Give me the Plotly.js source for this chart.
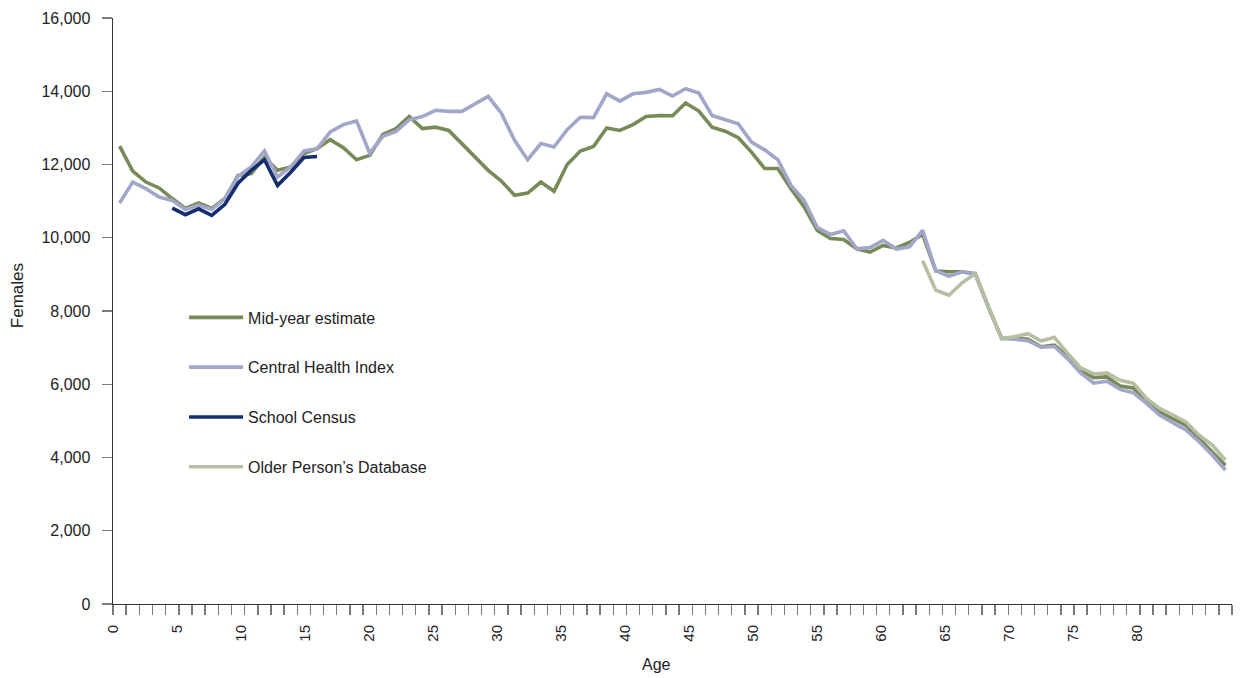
<!DOCTYPE html>
<html>
<head>
<meta charset="utf-8">
<script src="https://cdn.plot.ly/plotly-3.0.1.min.js"></script>
<style>
  html, body { margin: 0; padding: 0; background: #ffffff; }
  #chart { width: 1240px; height: 678px; }
</style>
</head>
<body>
<div id="chart"></div>
<script>
// Single-year ages plotted along the category axis
const ages = [0,1,2,3,4,5,6,7,8,9,10,11,12,13,14,15,16,17,18,19,20,21,22,23,24,25,26,27,28,29,
  30,31,32,33,34,35,36,37,38,39,40,41,42,43,44,45,46,47,48,49,50,51,52,53,54,55,56,57,58,59,
  60,61,62,63,64,65,66,67,68,69,70,71,72,73,74,75,76,77,78,79,80,81,82,83,84];

// Female population by age, per source
const midYearEstimate = [12500,11820,11520,11360,11070,10800,10950,10800,11070,11700,
  11750,12200,11840,11930,12300,12430,12680,12460,12130,12250,
  12820,12980,13310,12980,13020,12930,12570,12190,11840,11550,
  11160,11220,11520,11270,12000,12370,12490,13000,12930,13090,
  13310,13335,13330,13680,13460,13020,12910,12730,12340,11890,
  11890,11340,10840,10200,9980,9950,9700,9610,9790,9720,
  9870,10090,9090,9070,9070,9020,8100,7250,7260,7230,
  7020,7070,6770,6370,6180,6200,5950,5900,5560,5250,
  5060,4880,4520,4150,3790];

const centralHealthIndex = [10950,11520,11340,11110,11020,10770,10890,10770,11070,11680,
  11930,12370,11660,11930,12370,12430,12890,13090,13190,12310,
  12770,12900,13220,13310,13480,13450,13450,13660,13860,13400,
  12660,12130,12570,12480,12950,13290,13280,13930,13730,13930,
  13970,14050,13870,14070,13950,13340,13220,13110,12610,12400,
  12130,11430,11020,10280,10090,10190,9700,9730,9930,9690,
  9750,10200,9110,8950,9070,9000,8100,7260,7230,7190,
  7010,7030,6700,6310,6030,6080,5860,5770,5480,5160,
  4950,4750,4430,4070,3660];

const schoolAges = [4,5,6,7,8,9,10,11,12,13,14,15];
const schoolCensus = [10810,10630,10790,10610,10910,11490,11840,12130,11430,11790,12190,12220];

const olderAges = [61,62,63,64,65,66,67,68,69,70,71,72,73,74,75,76,77,78,79,80,81,82,83,84];
const olderPersonsDatabase = [9370,8570,8430,8770,9020,8100,7240,7300,7380,7180,
  7280,6850,6450,6280,6310,6110,6030,5610,5340,5160,4970,4610,4340,3930];

// Age labels printed under the axis
const ageLabels = ['0','5','10','15','20','25','30','35','40','45','50','55','60','65','70','75','80'];
const ageLabelVals = [0,5,10,15,20,25,30,35,40,45,50,55,60,65,70,75,80];

const yTicks = [0,2000,4000,6000,8000,10000,12000,14000,16000];

const FONT = 'Liberation Sans, Arial, Helvetica, sans-serif';
const INK = '#222222';
const LW = 3.6;

function series(name, x, y, color, group) {
  return {
    type: 'scatter', mode: 'lines', name: name, x: x, y: y,
    line: { color: color, width: LW },
    legendgroup: group, hoverinfo: 'x+y'
  };
}

const traces = [
  series('Mid-year estimate', ages, midYearEstimate, '#788a58', 'g1'),
  series('Central Health Index', ages, centralHealthIndex, '#a2a6c8', 'g2'),
  series('School Census', schoolAges, schoolCensus, '#152f6e', 'g3'),
  series('Older Person\u2019s Database', olderAges, olderPersonsDatabase, '#b6bfa2', 'g4'),
  // empty trace that registers the age-label axis
  { type: 'scatter', mode: 'lines', x: [], y: [], xaxis: 'x2', yaxis: 'y',
    showlegend: false, hoverinfo: 'skip' }
];

const layout = {
  width: 1240, height: 678,
  margin: { l: 113, r: 8, t: 18, b: 74 },
  paper_bgcolor: '#ffffff', plot_bgcolor: '#ffffff',
  font: { family: FONT, color: INK, size: 16 },
  showlegend: true,
  legend: {
    x: 0.0635, y: 0.518, xanchor: 'left', yanchor: 'top',
    bgcolor: 'rgba(0,0,0,0)', borderwidth: 0,
    traceorder: 'grouped', tracegroupgap: 26, itemwidth: 54,
    font: { family: FONT, size: 16, color: INK }
  },
  // category axis: one tick between each single-year age
  xaxis: {
    range: [-0.5, 84.5],
    tickmode: 'linear', tick0: -0.5, dtick: 1,
    ticks: 'outside', ticklen: 10, tickwidth: 1.4, tickcolor: '#7a7a7a',
    showticklabels: false,
    showline: true, linecolor: '#333333', linewidth: 1.4,
    showgrid: false, zeroline: false, fixedrange: true
  },
  // label axis carrying the printed age numbers
  xaxis2: {
    overlaying: 'x', anchor: 'y', side: 'bottom',
    range: [0, 87.4],
    tickmode: 'array', tickvals: ageLabelVals, ticktext: ageLabels,
    tickangle: -90,
    ticks: 'outside', ticklen: 10, tickcolor: 'rgba(0,0,0,0)',
    ticklabelstandoff: 4,
    tickfont: { family: FONT, size: 15, color: INK },
    showline: false, showgrid: false, zeroline: false, fixedrange: true
  },
  yaxis: {
    range: [0, 16000],
    tickmode: 'array', tickvals: yTicks, tickformat: ',d',
    ticks: 'outside', ticklen: 10, tickwidth: 1.4, tickcolor: '#7a7a7a',
    ticklabelstandoff: 8,
    tickfont: { family: FONT, size: 16, color: INK },
    showline: true, linecolor: '#333333', linewidth: 1.4,
    showgrid: false, zeroline: false, fixedrange: true
  },
  // axis titles
  annotations: [
    { text: 'Age', xref: 'paper', yref: 'paper', x: 0.4855, y: -0.104,
      xanchor: 'center', yanchor: 'middle', showarrow: false,
      font: { family: FONT, size: 16, color: INK } },
    { text: 'Females', xref: 'paper', yref: 'paper', x: -0.0858, y: 0.527,
      xanchor: 'center', yanchor: 'middle', textangle: -90, showarrow: false,
      font: { family: FONT, size: 17, color: INK } }
  ]
};

Plotly.newPlot('chart', traces, layout, { displayModeBar: false, staticPlot: true });
</script>
</body>
</html>
